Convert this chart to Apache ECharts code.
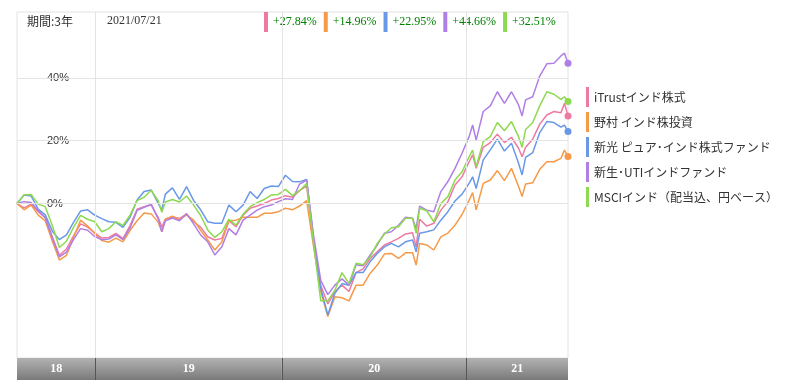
<!DOCTYPE html>
<html><head><meta charset="utf-8">
<script src="https://cdn.jsdelivr.net/npm/echarts@6/dist/echarts.min.js"></script>
<style>html,body{margin:0;padding:0;background:#fff}#c{width:787px;height:385px}</style>
</head><body><div id="c"></div>
<script>
const dates = [
'2018-07-25','2018-08-08','2018-08-22','2018-09-05','2018-09-19','2018-10-03','2018-10-17','2018-10-31','2018-11-14','2018-11-28',
'2018-12-12','2018-12-26','2019-01-09','2019-01-23','2019-02-06','2019-02-20','2019-03-06','2019-03-20','2019-04-03','2019-04-17',
'2019-05-01','2019-05-08','2019-05-15','2019-05-29','2019-06-12','2019-06-26','2019-07-10','2019-07-24','2019-08-07','2019-08-21',
'2019-09-04','2019-09-18','2019-10-02','2019-10-16','2019-10-30','2019-11-13','2019-11-27','2019-12-11','2019-12-25','2020-01-08',
'2020-01-22','2020-02-05','2020-02-19','2020-03-04','2020-03-18','2020-04-01','2020-04-15','2020-04-29','2020-05-13','2020-05-27',
'2020-06-10','2020-06-24','2020-07-08','2020-07-22','2020-08-05','2020-08-19','2020-09-02','2020-09-16','2020-09-23','2020-09-30',
'2020-10-14','2020-10-28','2020-11-11','2020-11-25','2020-12-09','2020-12-23','2021-01-06','2021-01-13','2021-01-20','2021-02-03',
'2021-02-17','2021-03-03','2021-03-17','2021-03-31','2021-04-14','2021-04-21','2021-04-28','2021-05-12','2021-05-26','2021-06-09',
'2021-06-23','2021-07-07','2021-07-14','2021-07-21'];

const names = ['iTrustインド株式','野村 インド株投資','新光 ピュア･インド株式ファンド','新生･UTIインドファンド','MSCIインド（配当込、円ベース）'];
const returnsText = ['+27.84%','+14.96%','+22.95%','+44.66%','+32.51%'];
const periodText = '期間:3年';
const dateText = '2021/07/21';

const itrust = [
0,-1.4,-0.2,-2.6,-4.5,-10.6,-16.5,-14.5,-10.3,-6.5,
-7.5,-9.3,-11.0,-10.8,-9.5,-11.2,-7.0,-1.8,-1.0,-0.5,
-4.5,-7.5,-5.0,-4.2,-4.8,-3.4,-5.8,-7.5,-10.6,-11.6,
-11.1,-5.5,-7.4,-3.7,-1.5,-0.8,0.0,1.1,1.6,2.5,
2.0,4.1,5.6,-12.5,-26.0,-32.0,-28.1,-26.0,-28.0,-22.0,
-20.8,-17.5,-15.4,-13.2,-12.2,-11.1,-9.7,-9.3,-13.8,-5.0,
-7.2,-6.3,-2.1,0.6,5.9,8.5,13.3,15.5,11.2,17.9,
19.4,22.1,19.4,21.1,17.6,14.9,17.9,20.5,25.3,28.2,
29.3,28.9,31.9,27.84];
const nomura = [
0,-2.0,-0.5,-3.7,-5.5,-12.0,-18.0,-16.5,-10.8,-5.3,
-7.2,-9.5,-11.8,-12.3,-11.0,-12.2,-8.6,-5.5,-3.0,-3.3,
-6.0,-9.0,-5.0,-4.0,-5.2,-3.6,-5.3,-8.5,-11.6,-14.8,
-12.2,-5.5,-5.3,-4.4,-4.4,-4.4,-3.1,-3.1,-2.6,-1.5,
-2.0,-0.8,0.9,-14.0,-28.0,-36.0,-29.7,-30.0,-31.0,-26.0,
-26.0,-22.2,-19.6,-16.1,-15.9,-17.5,-15.7,-15.7,-19.6,-12.7,
-13.2,-14.8,-10.6,-9.4,-6.9,-3.5,1.0,3.5,-2.0,6.4,
7.5,10.5,7.3,11.2,5.4,2.2,6.2,6.6,10.9,13.3,
13.3,14.4,17.0,14.96];
const shinko = [
0,2.7,2.4,-1.8,-3.6,-8.8,-11.5,-10.0,-6.0,-2.4,
-2.0,-3.7,-4.8,-5.8,-6.0,-7.6,-4.4,1.1,3.8,4.3,
0.0,-2.1,3.0,5.0,1.3,5.4,1.0,-2.0,-5.8,-6.3,
-6.3,-0.5,-2.6,-0.5,3.8,1.6,4.8,5.6,5.4,9.0,
7.0,6.9,7.7,-12.0,-27.0,-35.5,-28.6,-25.5,-26.0,-22.0,
-22.0,-18.5,-15.9,-13.8,-12.7,-13.8,-12.2,-11.6,-15.4,-9.5,
-9.0,-8.4,-5.3,-2.6,0.8,3.0,6.4,8.5,4.8,13.9,
17.1,20.5,16.7,19.2,12.8,9.1,14.7,16.2,22.6,26.1,
25.8,24.3,25.0,22.95];
const shinsei = [
0,0.6,0.3,-2.2,-4.5,-11.0,-17.0,-15.5,-11.5,-8.0,
-8.5,-10.5,-11.5,-11.3,-10.0,-11.5,-7.8,-2.2,-1.2,-0.2,
-5.0,-9.0,-5.5,-4.6,-5.5,-3.2,-6.5,-10.0,-12.2,-16.4,
-13.8,-8.0,-10.0,-5.3,-3.7,-2.1,-1.0,-0.5,0.6,1.5,
1.3,6.2,7.5,-10.5,-24.5,-29.0,-26.0,-24.0,-26.0,-19.5,
-19.8,-16.4,-13.2,-9.5,-9.0,-6.9,-4.4,-4.7,-8.0,-0.8,
-2.1,-2.6,3.8,7.0,11.2,16.0,21.3,25.0,20.2,29.3,
31.1,35.6,31.9,35.6,31.4,27.9,33.0,34.0,40.6,44.5,
44.7,47.0,47.9,44.66];
const msci = [
0,2.7,2.9,-0.2,-1.0,-7.0,-14.0,-12.0,-7.6,-3.8,
-5.0,-5.8,-9.0,-8.0,-5.8,-7.0,-3.7,0.9,2.0,4.2,
0.8,-2.8,0.5,1.3,0.5,2.4,-0.5,-3.8,-8.4,-10.8,
-9.0,-5.0,-6.9,-3.4,-1.0,0.3,1.3,2.7,2.9,4.5,
2.5,4.1,6.4,-13.0,-31.0,-31.0,-27.6,-22.0,-25.5,-19.0,
-19.5,-17.0,-12.7,-9.8,-7.7,-7.4,-4.7,-4.7,-9.5,-1.5,
-2.3,-5.8,0.0,2.2,7.5,10.1,14.9,17.0,11.7,19.7,
21.3,25.8,23.2,26.1,21.3,17.9,23.6,25.8,31.1,35.6,
34.8,33.2,34.0,32.51];

const yTicks = [0, 20, 40];
const yearBounds = ['2018-12-28','2020-01-01','2021-01-01'];
const yearLabels = ['18','19','20','21'];

const colors = ['#ee7aa0','#f79a48','#6a98e8','#b07fe6','#8dd94f'];
const seriesVals = [itrust, nomura, shinko, shinsei, msci];
const first = dates[0], last = dates[dates.length-1];

const lineSeries = seriesVals.map((vals, i) => ({
  name: names[i], type: 'line', xAxisIndex: 0, yAxisIndex: 0,
  data: vals.map((v, j) => j === vals.length - 1
    ? {value: [dates[j], v], symbol: 'circle', symbolSize: 7}
    : [dates[j], v]),
  symbol: 'none', showSymbol: true, showAllSymbol: true,
  lineStyle: {width: 1.5, color: colors[i]},
  itemStyle: {color: colors[i]},
  emphasis: {disabled: true}, z: 3
}));

const gridSeries = {
  type: 'line', xAxisIndex: 0, yAxisIndex: 0, data: [], silent: true, z: 1,
  markLine: {
    silent: true, symbol: ['none','none'], label: {show: false},
    lineStyle: {color: '#e4e4e4', type: 'solid', width: 1},
    data: [...yTicks.map(v => ({yAxis: v})), ...yearBounds.map(d => ({xAxis: d}))]
  }
};

const barSeries = {
  type: 'line', xAxisIndex: 1, yAxisIndex: 1, data: [], silent: true,
  markArea: {
    silent: true,
    itemStyle: {color: {type: 'linear', x: 0, y: 0, x2: 0, y2: 1,
      colorStops: [{offset: 0, color: '#b2b2b2'}, {offset: 1, color: '#7a7a7a'}]}},
    label: {show: true, position: 'inside', color: '#fff', fontFamily: 'Liberation Serif', fontSize: 12, fontWeight: 'bold'},
    data: yearLabels.map((lab, i) => [
      {name: lab, xAxis: i === 0 ? first : yearBounds[i-1]},
      {xAxis: i === yearLabels.length - 1 ? last : yearBounds[i]}
    ])
  },
  markLine: {
    silent: true, symbol: ['none','none'], label: {show: false},
    lineStyle: {color: '#555', type: 'solid', width: 1},
    data: yearBounds.map(d => ({xAxis: d}))
  }
};

const chart = echarts.init(document.getElementById('c'));
chart.setOption({
  animation: false,
  backgroundColor: '#fff',
  color: colors,
  title: [
    {text: periodText, left: 27, top: 15, padding: 0, textStyle: {fontSize: 12, fontWeight: 'normal', color: '#333', fontFamily: 'Noto Sans CJK JP'}},
    {text: dateText, left: 107, top: 15, padding: 0, textStyle: {fontSize: 12, fontWeight: 'normal', color: '#333', fontFamily: 'Liberation Serif'}}
  ],
  legend: [
    {data: names, orient: 'vertical', left: 586, top: 87, icon: 'rect', itemWidth: 3, itemHeight: 20, itemGap: 5,
     selectedMode: false, padding: 0, textStyle: {fontSize: 12, color: '#333', fontFamily: 'Noto Sans CJK JP'}},
    {data: names, orient: 'horizontal', left: 264, top: 12, icon: 'rect', itemWidth: 4, itemHeight: 20, itemGap: 7,
     selectedMode: false, padding: 0, formatter: n => returnsText[names.indexOf(n)],
     textStyle: {fontSize: 12, color: '#008000', fontFamily: 'Liberation Serif'}}
  ],
  grid: [
    {left: 17, right: 219, top: 12, bottom: 27, show: true, borderColor: '#e2e2e2', borderWidth: 1, containLabel: false},
    {left: 17, right: 219, top: 358, height: 22, show: false, containLabel: false}
  ],
  xAxis: [
    {type: 'time', gridIndex: 0, min: first, max: last, show: false, splitLine: {show: false}},
    {type: 'time', gridIndex: 1, min: first, max: last, show: false, splitLine: {show: false}}
  ],
  yAxis: [
    {type: 'value', gridIndex: 0, min: -49.2, max: 61,
     axisLine: {show: false}, axisTick: {show: false}, splitLine: {show: false},
     axisLabel: {customValues: yTicks, inside: true, margin: 30, align: 'left', formatter: '{value}%', color: '#333', fontSize: 11, fontFamily: 'Liberation Sans'}},
    {type: 'value', gridIndex: 1, min: 0, max: 1, show: false}
  ],
  series: [gridSeries, ...lineSeries, barSeries]
});
</script></body></html>
